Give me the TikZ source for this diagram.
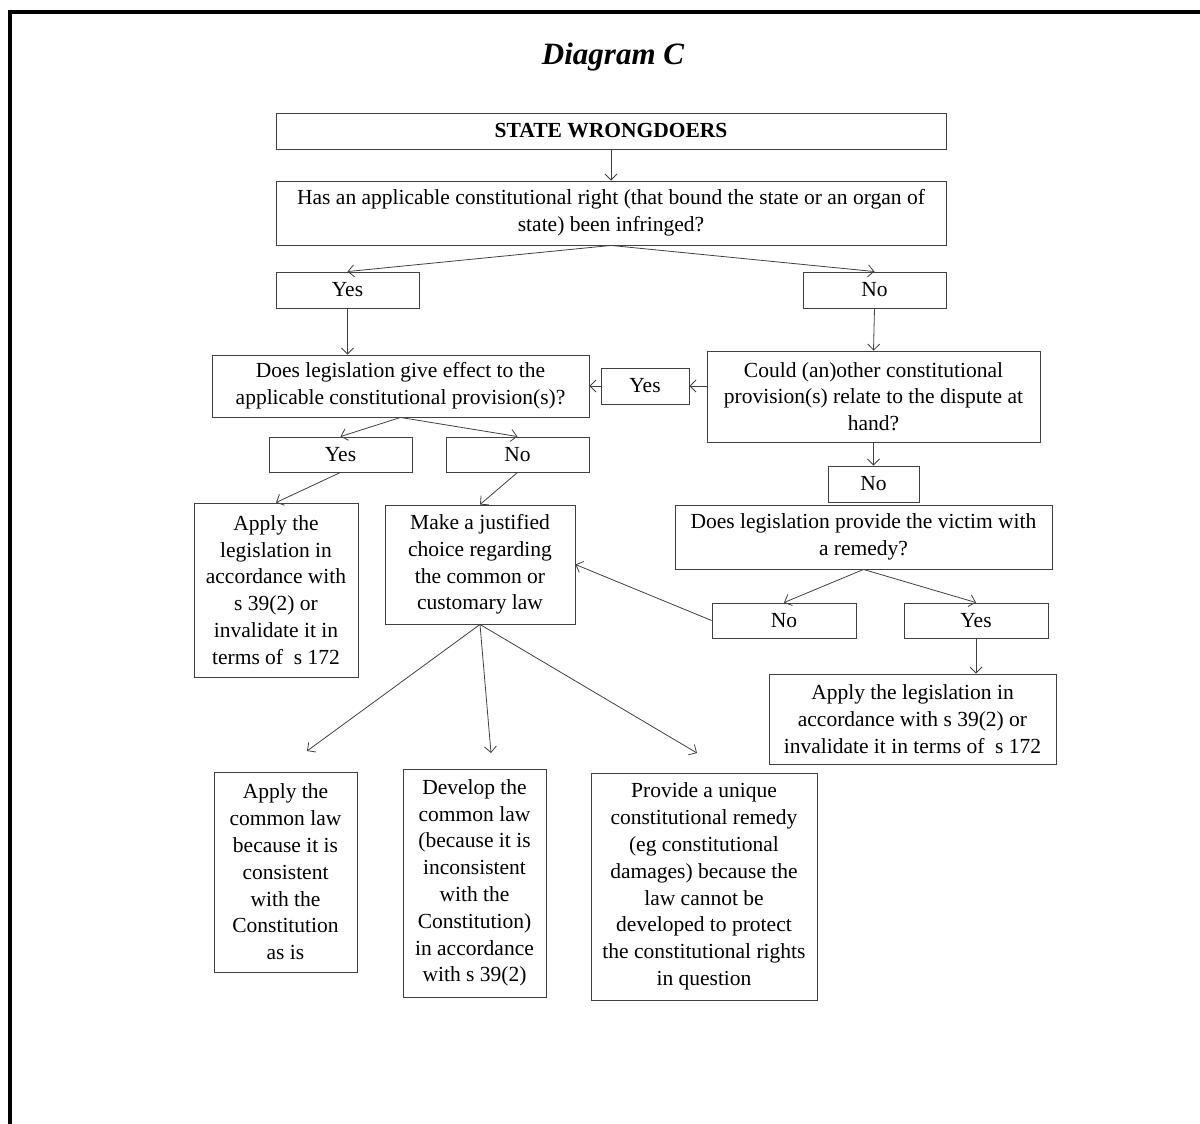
\documentclass[tikz,border=0pt]{standalone}
\usepackage{fontspec}
\setmainfont{Liberation Serif}
\usetikzlibrary{arrows.meta}
\definecolor{edge}{HTML}{404040}
\begin{document}
\begin{tikzpicture}[x=1pt,y=-1pt,
  box/.style={draw=edge,line width=0.9pt,inner sep=0pt,align=center,
    font=\fontsize{21.5}{26.8}\selectfont},
  arr/.style={draw=edge,line width=0.8pt,-{Straight Barb[length=6pt,width=12pt]}},
  plain/.style={draw=edge,line width=0.8pt}]
\useasboundingbox (0,0) rectangle (1200,1124);
% page frame
\draw[line width=4.5pt] (10,1130) -- (10,12) -- (1210,12);
\node[font=\fontsize{31}{33}\selectfont\bfseries\itshape] (title) at (613,57) {Diagram C};

% nodes
\node[box,minimum width=670,minimum height=36] (sw) at (611,131) {\textbf{STATE WRONGDOERS}};
\node[box,minimum width=670,minimum height=64] (q1) at (611,213)
  {Has an applicable constitutional right (that bound the state or an organ of\\state) been infringed?};
\node[box,minimum width=143,minimum height=36] (yes1) at (347.5,290) {Yes};
\node[box,minimum width=143,minimum height=36] (no1) at (874.5,290) {No};
\node[box,minimum width=377,minimum height=62] (q2) at (400.5,386)
  {Does legislation give effect to the\\applicable constitutional provision(s)?};
\node[box,minimum width=88,minimum height=36] (yes2) at (645,386) {Yes};
\node[box,minimum width=333,minimum height=91] (q3) at (873.5,396.5)
  {Could (an)other constitutional\\provision(s) relate to the dispute at\\hand?};
\node[box,minimum width=143,minimum height=35] (yes3) at (340.5,454.5) {Yes};
\node[box,minimum width=143,minimum height=35] (no3) at (517.5,454.5) {No};
\node[box,minimum width=164,minimum height=174] (a1) at (276,590)
  {Apply the\\legislation in\\accordance with\\s 39(2) or\\invalidate it in\\terms of \ s 172};
\node[box,minimum width=190,minimum height=119] (choice) at (480,564.5)
  {Make a justified\\choice regarding\\the common or\\customary law};
\node[box,minimum width=91,minimum height=36] (no4) at (873.5,484) {No};
\node[box,minimum width=377,minimum height=64] (q4) at (863.5,537)
  {Does legislation provide the victim with\\a remedy?};
\node[box,minimum width=144,minimum height=35] (no5) at (784,620.5) {No};
\node[box,minimum width=144,minimum height=35] (yes5) at (976,620.5) {Yes};
\node[box,minimum width=287,minimum height=90] (a2) at (912.5,719)
  {Apply the legislation in\\accordance with s 39(2) or\\invalidate it in terms of \ s 172};
\node[box,minimum width=143,minimum height=200] (c1) at (285.5,872)
  {Apply the\\common law\\because it is\\consistent\\with the\\Constitution\\as is};
\node[box,minimum width=143,minimum height=228] (c2) at (474.5,883)
  {Develop the\\common law\\(because it is\\inconsistent\\with the\\Constitution)\\in accordance\\with s 39(2)};
\node[box,minimum width=226,minimum height=227] (c3) at (704,886.5)
  {Provide a unique\\constitutional remedy\\(eg constitutional\\damages) because the\\law cannot be\\developed to protect\\the constitutional rights\\in question};

% free ends of the three outcome arrows
\coordinate (e1) at (307,751);
\coordinate (e2) at (491,753);
\coordinate (e3) at (697,753);

% connectors
\draw[arr] (sw.south) -- (q1.north);
\draw[arr] (q1.south) -- (yes1.north);
\draw[arr] (q1.south) -- (no1.north);
\draw[arr] (yes1.south) -- (yes1.south |- q2.north);
\draw[arr] (no1.south) -- (q3.north);
\draw[arr] (q3.west |- yes2.east) -- (yes2.east);
\draw[arr] (yes2.west) -- (q2.east);
\draw[arr] (q2.south) -- (yes3.north);
\draw[arr] (q2.south) -- (no3.north);
\draw[arr] (yes3.south) -- (a1.north);
\draw[arr] (no3.south) -- (choice.north);
\draw[arr] (q3.south) -- (no4.north);
\draw[arr] (q4.south) -- (no5.north);
\draw[arr] (q4.south) -- (yes5.north);
\draw[arr] (no5.west) -- (choice.east);
\draw[arr] (yes5.south) -- (yes5.south |- a2.north);
\draw[arr] (choice.south) -- (e1);
\draw[arr] (choice.south) -- (e2);
\draw[arr] (choice.south) -- (e3);
\end{tikzpicture}
\end{document}
